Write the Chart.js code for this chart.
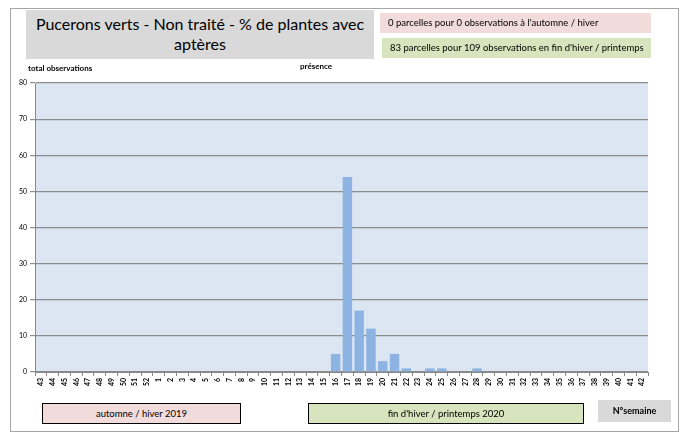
<!DOCTYPE html>
<html>
<head>
<meta charset="utf-8">
<script src="https://cdn.jsdelivr.net/npm/chart.js@4/dist/chart.umd.min.js"></script>
<style>
  body { margin: 0; background: #fff; font-family: Lato, "Noto Sans", sans-serif; }
  #wrap { position: relative; width: 683px; height: 436px; }
  #myChart { position: absolute; left: 0; top: 0; }
  .box { position: absolute; box-sizing: border-box; color: #000; white-space: nowrap; }
  #frame { left: 10px; top: 8px; width: 669px; height: 424px; border: 1px solid #a6a6a6; }
  #title { left: 26px; top: 10px; width: 348px; height: 49px; background: #d9d9d9; font-size: 16px; line-height: 20px; text-align: center; padding-top: 4px; }
  #info1 { left: 380px; top: 13px; width: 271px; height: 20px; background: #f2dcdb; font-size: 9.5px; line-height: 20px; padding-left: 8px; }
  #info2 { left: 382px; top: 38px; width: 269px; height: 20px; background: #d7e4bd; font-size: 9.5px; line-height: 20px; padding-left: 8px; }
  #ylab { left: 28px; top: 63px; font-size: 8px; font-weight: bold; }
  #pres { left: 300px; top: 61px; font-size: 8px; font-weight: bold; }
  #p1 { left: 42px; top: 403px; width: 199px; height: 21px; background: #f2dcdb; border: 1px solid #000; font-size: 9.5px; line-height: 19px; text-align: center; }
  #p2 { left: 308px; top: 403px; width: 276px; height: 21px; background: #d7e4bd; border: 1px solid #000; font-size: 9.5px; line-height: 19px; text-align: center; }
  #sem { left: 598px; top: 400px; width: 73px; height: 22px; background: #d9d9d9; font-size: 9px; font-weight: bold; line-height: 22px; text-align: center; }
</style>
</head>
<body>
<div id="wrap">
  <div class="box" id="frame"></div>
  <canvas id="myChart" width="683" height="436"></canvas>
  <div class="box" id="title">Pucerons verts - Non traité - % de plantes avec<br>aptères</div>
  <div class="box" id="info1">0 parcelles pour 0 observations à l'automne / hiver</div>
  <div class="box" id="info2">83 parcelles pour 109 observations en fin d'hiver / printemps</div>
  <div class="box" id="ylab">total observations</div>
  <div class="box" id="pres">présence</div>
  <div class="box" id="p1">automne / hiver 2019</div>
  <div class="box" id="p2">fin d'hiver / printemps 2020</div>
  <div class="box" id="sem">N°semaine</div>
</div>
<script>
const weeks = ["43","44","45","46","47","48","49","50","51","52",
  "1","2","3","4","5","6","7","8","9","10","11","12","13","14","15","16","17","18","19","20",
  "21","22","23","24","25","26","27","28","29","30","31","32","33","34","35","36","37","38",
  "39","40","41","42"];
const presence = [0,0,0,0,0,0,0,0,0,0,
  0,0,0,0,0,0,0,0,0,0,0,0,0,0,0,5,54,17,12,3,
  5,1,0,1,1,0,0,1,0,0,0,0,0,0,0,0,0,0,
  0,0,0,0];
const yTicks = [0, 10, 20, 30, 40, 50, 60, 70, 80];

const plotBg = {
  id: "plotBg",
  beforeDraw(chart) {
    const a = chart.chartArea;
    const ctx = chart.ctx;
    ctx.save();
    ctx.fillStyle = "#dce6f2";
    ctx.fillRect(a.left, a.top, a.right - a.left, a.bottom - a.top);
    ctx.restore();
  }
};

new Chart("myChart", {
  type: "bar",
  data: {
    labels: weeks,
    datasets: [{
      data: presence,
      backgroundColor: "#8db3e2",
      barPercentage: 0.8,
      categoryPercentage: 1
    }]
  },
  options: {
    responsive: false,
    animation: false,
    layout: { padding: { top: 83, right: 35, left: 0, bottom: 0 } },
    plugins: { legend: { display: false }, tooltip: { enabled: false } },
    scales: {
      x: {
        grid: { offset: true, drawOnChartArea: false, tickLength: 4, color: "#888" },
        border: { color: "#888" },
        ticks: {
          autoSkip: false, minRotation: 90, maxRotation: 90, padding: 2,
          color: "#000", font: { family: "Lato", size: 7, weight: "bold" }
        },
        afterFit(scale) { scale.height = 64; }
      },
      y: {
        min: 0, max: 80,
        afterBuildTicks(scale) { scale.ticks = yTicks.map(v => ({ value: v })); },
        grid: { color: "#8c8c8c", lineWidth: 1.2, tickLength: 5 },
        border: { color: "#888" },
        ticks: { color: "#000", padding: 3, font: { family: "Lato", size: 7 } },
        afterFit(scale) { scale.width = 35; }
      }
    }
  },
  plugins: [plotBg]
});
</script>
</body>
</html>
